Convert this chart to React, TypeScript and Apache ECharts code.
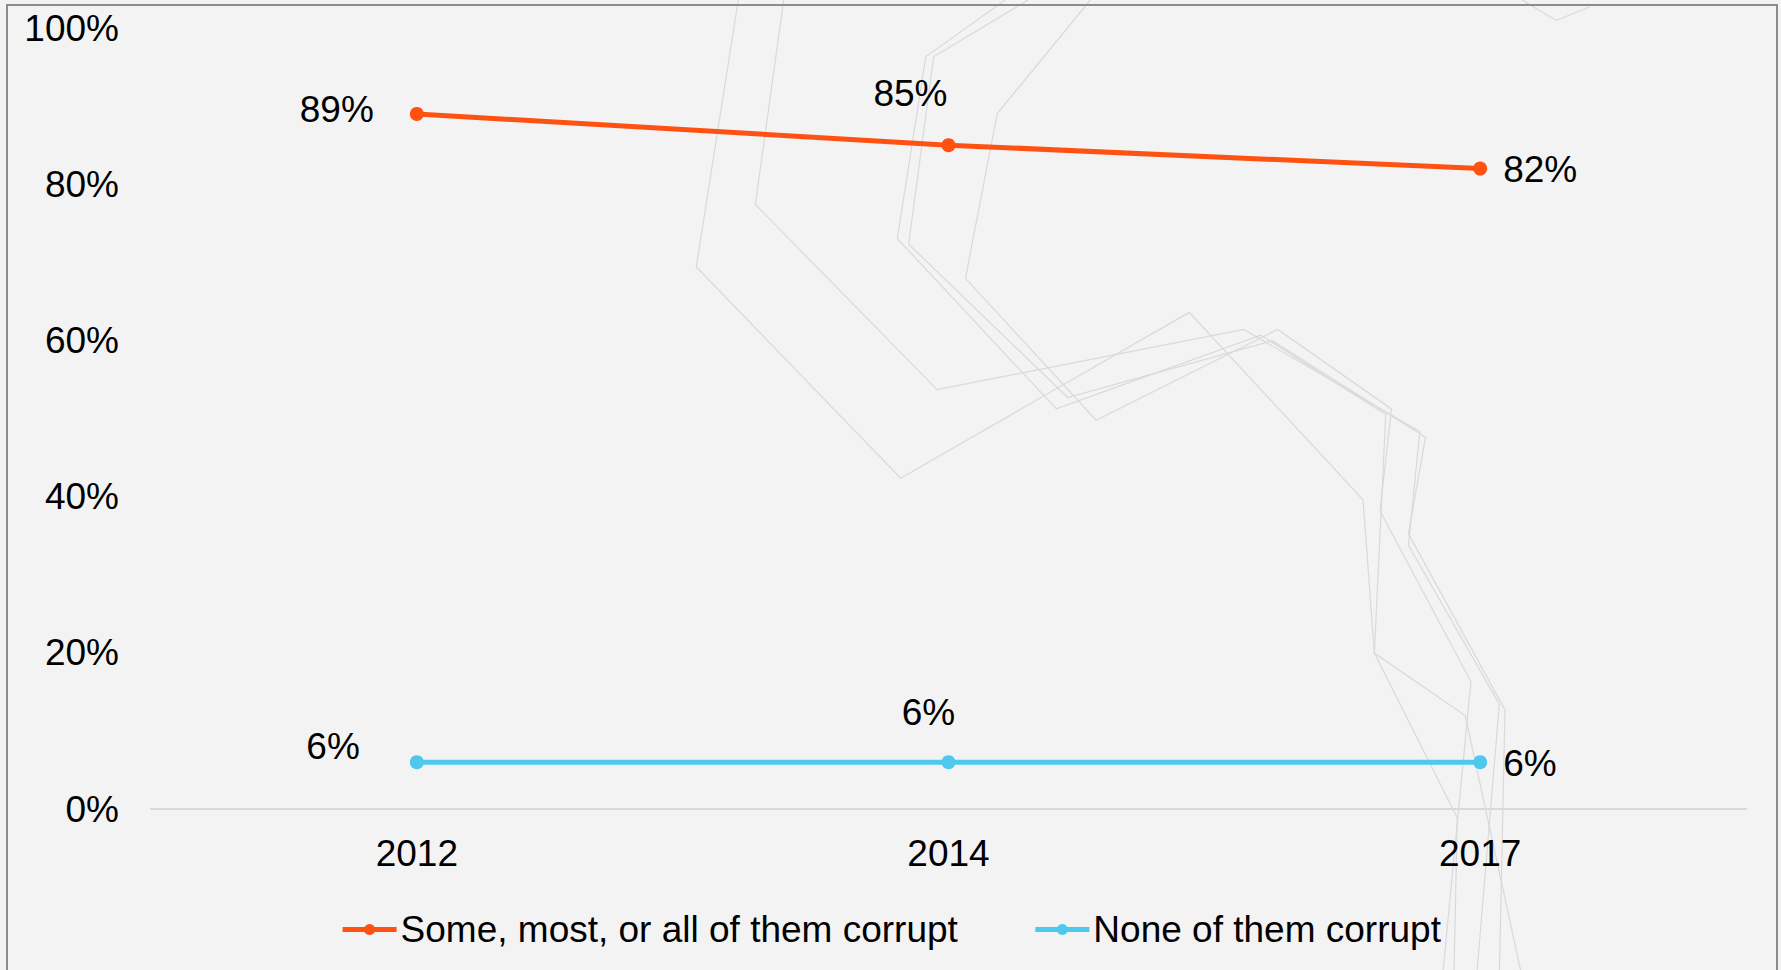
import React, { useEffect, useRef } from "react";
import * as echarts from "echarts";

const years = ["2012", "2014", "2017"];
const someCorrupt = [89, 85, 82];
const noneCorrupt = [6, 6, 6];
const yTicks = [0, 20, 40, 60, 80, 100];
const seriesNames = ["Some, most, or all of them corrupt", "None of them corrupt"];

const FONT = "'Liberation Sans', Arial, sans-serif";
const ORANGE = "#FF5212";
const BLUE = "#4FC8EE";
const S = 1781 / 1568;
const FS = 37;

const decoLines: number[][][] = [
  [[690, 0], [665, 180], [825, 343], [1095, 290], [1250, 380], [1240, 480], [1320, 620], [1300, 860]],
  [[885, 0], [815, 50], [790, 210], [930, 360], [1110, 295], [1220, 365], [1210, 575], [1290, 630], [1340, 860]],
  [[905, 0], [822, 50], [800, 215], [940, 350], [1120, 300], [1255, 385], [1240, 470], [1325, 625], [1320, 860]],
  [[960, 0], [878, 100], [850, 245], [965, 370], [1125, 290], [1225, 360], [1215, 450], [1295, 600], [1270, 860]],
  [[650, 0], [613, 235], [793, 421], [1047, 275], [1200, 440], [1210, 575], [1283, 720], [1280, 860]],
  [[1340, 0], [1370, 18], [1400, 6]],
];

export default function App() {
  const ref = useRef<HTMLDivElement>(null);
  useEffect(() => {
    if (!ref.current) return;
    const chart = echarts.init(ref.current, undefined, { renderer: "svg" });
    const lbl = { color: "#000", fontSize: FS, fontFamily: FONT };
    const someLabels = [
      { position: "left", distance: 36, offset: [0, -4] },
      { position: "top", distance: 26, offset: [-38, 0] },
      { position: "right", distance: 16, offset: [0, 1] },
    ];
    const noneLabels = [
      { position: "left", distance: 50, offset: [0, -16] },
      { position: "top", distance: 24, offset: [-20, 0] },
      { position: "right", distance: 16, offset: [0, 1] },
    ];
    chart.setOption({
      animation: false,
      backgroundColor: "#f3f3f3",
      graphic: [
        ...decoLines.map((pts) => ({
          type: "polyline",
          silent: true,
          z: -10,
          shape: { points: pts.map(([x, y]) => [x * S, y * S]) },
          style: { stroke: "#d9d9d9", lineWidth: 1.2, fill: null },
        })),
        {
          type: "rect",
          silent: true,
          z: -5,
          shape: { x: 7, y: 5, width: 1770, height: 1000 },
          style: { fill: null, stroke: "#8c8c8c", lineWidth: 2 },
        },
      ],
      grid: { left: 151, right: 35, top: 28, bottom: 161, containLabel: false },
      legend: {
        bottom: 17,
        left: "center",
        itemWidth: 54,
        itemHeight: 14,
        itemGap: 75,
        lineStyle: { width: 5 },
        textStyle: { color: "#000", fontSize: FS, fontFamily: FONT, padding: [0, 0, 0, -1] },
        data: seriesNames,
      },
      xAxis: {
        type: "category",
        data: years,
        boundaryGap: true,
        axisLine: { show: true, lineStyle: { color: "#d9d9d9", width: 2 } },
        axisTick: { show: false },
        axisLabel: { color: "#000", fontSize: FS, fontFamily: FONT, margin: 26 },
      },
      yAxis: {
        type: "value",
        min: yTicks[0],
        max: yTicks[yTicks.length - 1],
        interval: 20,
        axisLine: { show: false },
        axisTick: { show: false },
        splitLine: { show: false },
        axisLabel: { color: "#000", fontSize: FS, fontFamily: FONT, margin: 32, formatter: "{value}%" },
      },
      series: [
        {
          name: seriesNames[0],
          type: "line",
          data: someCorrupt.map((v, i) => ({
            value: v,
            label: { show: true, ...lbl, ...someLabels[i], formatter: "{c}%" },
          })),
          color: ORANGE,
          symbol: "circle",
          symbolSize: 14,
          lineStyle: { color: ORANGE, width: 5 },
          itemStyle: { color: ORANGE },
        },
        {
          name: seriesNames[1],
          type: "line",
          data: noneCorrupt.map((v, i) => ({
            value: v,
            label: { show: true, ...lbl, ...noneLabels[i], formatter: "{c}%" },
          })),
          color: BLUE,
          symbol: "circle",
          symbolSize: 14,
          lineStyle: { color: BLUE, width: 5 },
          itemStyle: { color: BLUE },
        },
      ],
    });
    return () => chart.dispose();
  }, []);
  return <div ref={ref} style={{ position: "fixed", left: 0, top: 0, width: 1781, height: 970 }} />;
}
